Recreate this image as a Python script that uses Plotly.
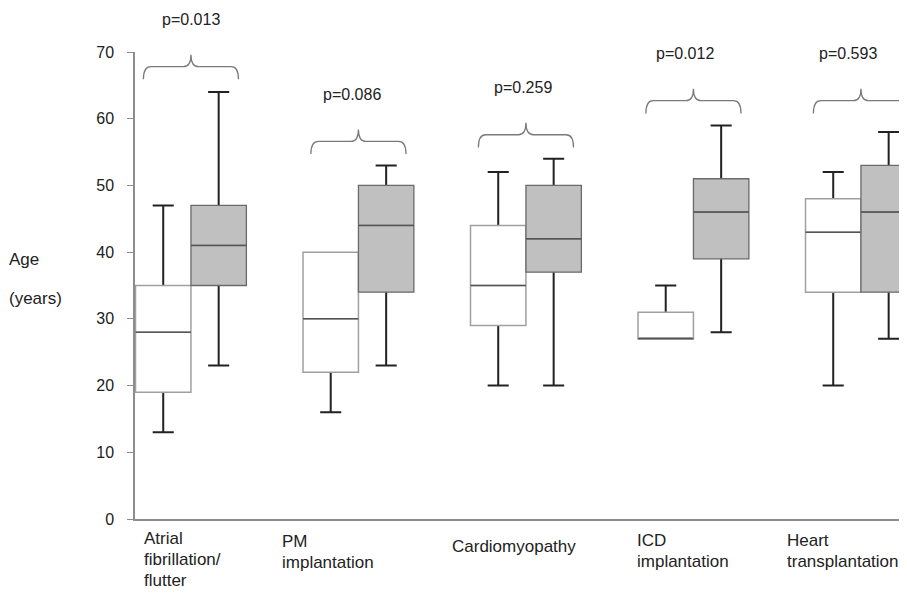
import plotly.graph_objects as go

# ---- data ----
categories = ["Atrial<br>fibrillation/<br>flutter", "PM<br>implantation", "Cardiomyopathy",
              "ICD<br>implantation", "Heart<br>transplantation"]

white_lower = [13, 16, 20, 27, 20]
white_q1 = [19, 22, 29, 27, 34]
white_median = [28, 30, 35, 27, 43]
white_q3 = [35, 40, 44, 31, 48]
white_upper = [47, 40, 52, 35, 52]

gray_lower = [23, 23, 20, 28, 27]
gray_q1 = [35, 34, 37, 39, 34]
gray_median = [41, 44, 42, 46, 46]
gray_q3 = [47, 50, 50, 51, 53]
gray_upper = [64, 53, 54, 59, 58]

p_labels = ["p=0.013", "p=0.086", "p=0.259", "p=0.012", "p=0.593"]
brace_level = [67.8, 56.6, 57.6, 62.7, 62.7]

y_ticks = [0, 10, 20, 30, 40, 50, 60, 70]

# ---- layout helpers (page body has an 8px margin) ----
PAGE_OFF = 8
W, H = 907 - PAGE_OFF, 593 - PAGE_OFF
ML, MR, MT, MB = 135 - PAGE_OFF, 0, 52 - PAGE_OFF, 74
YMAX = 70
BOX_W = 0.331
OFF = BOX_W / 2
FONT = "Liberation Sans, Arial, sans-serif"
TXT = "#222222"

n = len(categories)
idx = list(range(n))
xw = [i - OFF for i in idx]
xg = [i + OFF for i in idx]

fig = go.Figure()


def add_group(xs, lower, q1, med, q3, upper, fill, outline, outline_w):
    mid = [(a + b) / 2 for a, b in zip(q1, q3)]
    # a whisker of zero length is hidden inside the box (no cap drawn on the box edge)
    lo = [m if l >= a else l for l, a, m in zip(lower, q1, mid)]
    hi = [m if u <= b else u for u, b, m in zip(upper, q3, mid)]
    # whiskers (dark); the inner part is hidden under the box body
    fig.add_trace(go.Box(x=xs, q1=mid, median=mid, q3=mid, lowerfence=lo, upperfence=hi,
                         width=BOX_W, whiskerwidth=0.38, boxpoints=False,
                         fillcolor="rgba(0,0,0,0)", line=dict(color="#222222", width=2),
                         hoverinfo="skip", showlegend=False))
    # box body
    fig.add_trace(go.Box(x=xs, q1=q1, median=med, q3=q3, lowerfence=q1, upperfence=q3,
                         width=BOX_W, whiskerwidth=0.0, boxpoints=False,
                         fillcolor=fill, line=dict(color=outline, width=outline_w),
                         hoverinfo="skip", showlegend=False))
    # median line
    fig.add_trace(go.Box(x=xs, q1=med, median=med, q3=med, lowerfence=med, upperfence=med,
                         width=BOX_W, whiskerwidth=0.0, boxpoints=False,
                         fillcolor="rgba(0,0,0,0)", line=dict(color="#555555", width=1.5),
                         hoverinfo="skip", showlegend=False))


add_group(xw, white_lower, white_q1, white_median, white_q3, white_upper, "#ffffff", "#a0a0a0", 1.5)
add_group(xg, gray_lower, gray_q1, gray_median, gray_q3, gray_upper, "#c0c0c0", "#6a6a6a", 1.3)

# braces + p values
half = 0.284
r = 0.045
p_dx = [0.0, -0.04, -0.02, -0.05, -0.08]
shapes = []
annotations = []
for i in idx:
    yh = brace_level[i]
    ye = yh - 1.9
    yp = yh + 1.8
    x0, x1, xc = i - half, i + half, i
    path = (f"M {x0},{ye} Q {x0},{yh} {x0 + r},{yh} L {xc - r},{yh} "
            f"Q {xc},{yh} {xc},{yp} Q {xc},{yh} {xc + r},{yh} "
            f"L {x1 - r},{yh} Q {x1},{yh} {x1},{ye}")
    shapes.append(dict(type="path", path=path, xref="x", yref="y",
                       line=dict(color="#7a7a7a", width=1.3)))
    annotations.append(dict(text=p_labels[i], xref="x", yref="paper",
                            x=i + p_dx[i], y=(yp + 5.3) / YMAX,
                            xanchor="center", yanchor="middle", showarrow=False,
                            font=dict(family=FONT, size=16, color=TXT)))

plot_h = H - MT - MB
def py(pix):
    # pix: pixel row in the 593-tall window
    return (H - MB - (pix - PAGE_OFF)) / plot_h

plot_w = W - ML - MR
def px_(pix):
    return (pix - PAGE_OFF - ML) / plot_w

label_dx = [-0.29, -0.47, -0.455, -0.35, -0.455]
label_top = [527, 530, 535, 529, 529]
LINE_H = 21
for i in idx:
    for k, line in enumerate(categories[i].split("<br>")):
        annotations.append(dict(text=line, xref="x", yref="paper",
                                x=i + label_dx[i], y=py(label_top[i] + k * LINE_H),
                                xanchor="left", yanchor="top", align="left", showarrow=False,
                                font=dict(family=FONT, size=17, color=TXT)))

annotations.append(dict(text="Age", xref="paper", yref="paper", x=px_(7), y=py(248),
                        xanchor="left", yanchor="top", showarrow=False,
                        font=dict(family=FONT, size=17, color=TXT)))
annotations.append(dict(text="(years)", xref="paper", yref="paper", x=px_(7), y=py(287),
                        xanchor="left", yanchor="top", showarrow=False,
                        font=dict(family=FONT, size=17, color=TXT)))

fig.update_layout(
    width=W, height=H,
    margin=dict(l=ML, r=MR, t=MT, b=MB),
    paper_bgcolor="white", plot_bgcolor="white",
    showlegend=False, boxmode="overlay",
    shapes=shapes, annotations=annotations,
    xaxis=dict(range=[-0.334, 4.275], showgrid=False, zeroline=False,
               showline=True, linecolor="#8c8c8c", linewidth=1.5,
               showticklabels=False, ticks=""),
    yaxis=dict(range=[0, YMAX], tickvals=y_ticks, showgrid=False, zeroline=False,
               showline=True, linecolor="#8c8c8c", linewidth=1.5,
               ticks="outside", ticklen=6, tickcolor="#8c8c8c", tickwidth=1.2,
               ticklabelstandoff=10,
               tickfont=dict(family=FONT, size=16, color=TXT)),
)

fig.write_html("out.html")
